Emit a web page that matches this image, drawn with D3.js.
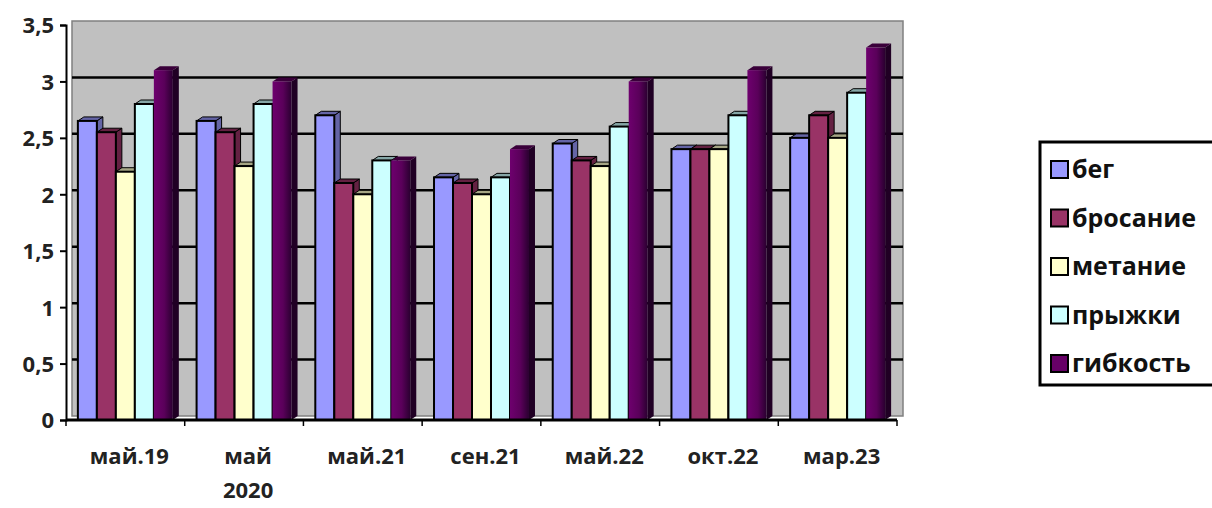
<!DOCTYPE html>
<html><head><meta charset="utf-8">
<script src="https://cdn.jsdelivr.net/npm/d3@7"></script>
<style>body{margin:0;background:#fff}svg{display:block}</style>
</head><body><svg id="c" width="1212" height="508"></svg>
<script>
const categories = ["май.19", "май 2020", "май.21", "сен.21", "май.22", "окт.22", "мар.23"];
const seriesNames = ["бег", "бросание", "метание", "прыжки", "гибкость"];
const run   = [2.65, 2.65, 2.7, 2.15, 2.45, 2.4, 2.5];
const throwing = [2.55, 2.55, 2.1, 2.1, 2.3, 2.4, 2.7];
const tossing = [2.2, 2.25, 2.0, 2.0, 2.25, 2.4, 2.5];
const jumps = [2.8, 2.8, 2.3, 2.15, 2.6, 2.7, 2.9];
const flex  = [3.1, 3.0, 2.3, 2.4, 3.0, 3.1, 3.3];
const yTicks = [0, 0.5, 1, 1.5, 2, 2.5, 3, 3.5];
const colors = ["#9999ff", "#993366", "#ffffcc", "#ccffff", "#660066"];
const seriesValues = [run, throwing, tossing, jumps, flex];

const svg = d3.select("#c");
const font = "'Open Sans', 'Noto Sans', sans-serif";
const x0 = 66, x1 = 897, yBase = 420, yTop = 25;
const dx = 6, dy = -4; // 3D depth offset
const y = d3.scaleLinear().domain([0, 3.5]).range([yBase, yTop]);
const x = d3.scaleBand().domain(categories).range([x0, x1]).paddingInner(0.2).paddingOuter(0.1);
const xs = d3.scaleBand().domain(seriesNames).range([0, x.bandwidth()]);

const defs = svg.append("defs");
const gr = defs.append("linearGradient").attr("id", "flexGrad").attr("x1", "0").attr("x2", "1").attr("y1", "0").attr("y2", "0");
gr.append("stop").attr("offset", "0").attr("stop-color", "#6e006e");
gr.append("stop").attr("offset", "0.55").attr("stop-color", "#5a005a");
gr.append("stop").attr("offset", "1").attr("stop-color", "#2a0030");

// back wall
svg.append("rect").attr("x", x0 + dx).attr("y", yTop + dy).attr("width", x1 - x0).attr("height", yBase - yTop)
  .attr("fill", "#c0c0c0").attr("stroke", "#808080").attr("stroke-width", 1.5);

// gridlines on back wall
svg.append("g").selectAll("line").data(yTicks.slice(1, -1)).join("line")
  .attr("x1", x0 + dx).attr("x2", x1 + dx)
  .attr("y1", d => y(d) + dy).attr("y2", d => y(d) + dy)
  .attr("stroke", "#000").attr("stroke-width", 2.5);

// bars
const dark = c => d3.color(c).darker(1.2).toString();
const cats = svg.append("g").selectAll("g").data(categories).join("g")
  .attr("transform", d => `translate(${x(d)},0)`);
cats.each(function (cat, ci) {
  const g = d3.select(this);
  seriesNames.forEach((s, si) => {
    const v = seriesValues[si][ci];
    const bx = xs(s), bw = xs.bandwidth(), by = y(v);
    const isFlex = si === 4;
    g.append("path").attr("d", `M${bx + bw},${by} L${bx + bw + dx},${by + dy} L${bx + bw + dx},${yBase + dy} L${bx + bw},${yBase} Z`)
      .attr("fill", isFlex ? "#200024" : dark(colors[si])).attr("stroke", "#000").attr("stroke-width", isFlex ? 0 : 1);
    g.append("path").attr("d", `M${bx},${by} L${bx + dx},${by + dy} L${bx + bw + dx},${by + dy} L${bx + bw},${by} Z`)
      .attr("fill", isFlex ? "#3a003a" : dark(colors[si])).attr("stroke", "#000").attr("stroke-width", isFlex ? 0 : 1);
    g.append("rect").attr("x", bx).attr("y", by).attr("width", bw).attr("height", yBase - by)
      .attr("fill", isFlex ? "url(#flexGrad)" : colors[si]).attr("stroke", isFlex ? "none" : "#000").attr("stroke-width", 2);
  });
});

// axes
const yAxis = d3.axisLeft(y).tickValues(yTicks).tickSize(6).tickFormat(d => String(d).replace(".", ","));
const ga = svg.append("g").attr("transform", `translate(${x0},0)`).call(yAxis);
ga.select(".domain").attr("stroke", "#000").attr("stroke-width", 2);
ga.selectAll(".tick line").attr("stroke", "#000").attr("stroke-width", 2);
ga.selectAll("text").attr("font-family", font).attr("font-weight", "bold").attr("font-size", 22)
  .attr("fill", "#222").attr("x", -12).attr("dy", "0.36em");

const bounds = d3.range(categories.length + 1).map(i => x0 + (x1 - x0) * i / categories.length);
svg.append("line").attr("x1", x0).attr("x2", x1).attr("y1", yBase).attr("y2", yBase).attr("stroke", "#000").attr("stroke-width", 3);
svg.append("g").selectAll("line").data(bounds).join("line")
  .attr("x1", d => d).attr("x2", d => d).attr("y1", yBase).attr("y2", yBase + 6).attr("stroke", "#000").attr("stroke-width", 1.5);

const labels = svg.append("g").selectAll("text").data(categories).join("text")
  .attr("x", d => x(d) + x.bandwidth() / 2 + 4).attr("y", 464)
  .attr("text-anchor", "middle").attr("font-family", font).attr("font-weight", "bold").attr("font-size", 22).attr("fill", "#222");
labels.each(function (d) {
  const parts = d.split(" ");
  const t = d3.select(this);
  parts.forEach((p, i) => t.append("tspan").attr("x", t.attr("x")).attr("dy", i === 0 ? 0 : 34).text(p));
});

// legend
const lg = svg.append("g");
lg.append("rect").attr("x", 1040).attr("y", 142).attr("width", 180).attr("height", 243)
  .attr("fill", "#fff").attr("stroke", "#000").attr("stroke-width", 3);
const ly = d3.scalePoint().domain(seriesNames).range([170, 364]);
seriesNames.forEach((s, i) => {
  lg.append("rect").attr("x", 1051).attr("y", ly(s) - 9).attr("width", 17).attr("height", 17)
    .attr("fill", colors[i]).attr("stroke", "#000").attr("stroke-width", 2);
  lg.append("text").attr("x", 1072).attr("y", ly(s) + 8).text(s)
    .attr("font-family", font).attr("font-weight", "bold").attr("font-size", 25).attr("fill", "#111");
});
</script></body></html>
